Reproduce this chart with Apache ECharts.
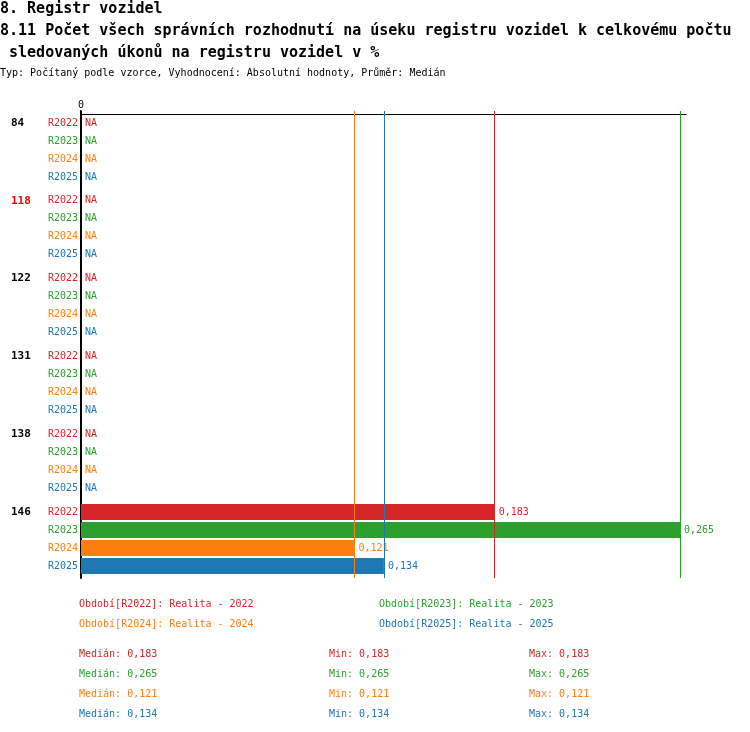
<!DOCTYPE html>
<html>
<head>
<meta charset="utf-8">
<script src="https://cdn.jsdelivr.net/npm/echarts@6/dist/echarts.min.js"></script>
<style>
  html, body { margin: 0; padding: 0; background: #fff; }
  #chart { width: 750px; height: 732px; }
</style>
</head>
<body>
<div id="chart"></div>
<script>
const titleLines = [
  '8. Registr vozidel',
  '8.11 Počet všech správních rozhodnutí na úseku registru vozidel k celkovému počtu',
  ' sledovaných úkonů na registru vozidel v %'
]
const subtitle = 'Typ: Počítaný podle vzorce, Vyhodnocení: Absolutní hodnoty, Průměr: Medián'

// skupiny (osa y) a období
const groups = ['84', '118', '122', '131', '138', '146']
const highlightGroup = '118'
const periods = ['R2022', 'R2023', 'R2024', 'R2025']
const periodNames = ['Realita - 2022', 'Realita - 2023', 'Realita - 2024', 'Realita - 2025']
const colors = ['#d62728', '#2ca02c', '#ff7f0e', '#1f77b4']

// hodnoty, null = NA
const r2022 = [null, null, null, null, null, 0.183]
const r2023 = [null, null, null, null, null, 0.265]
const r2024 = [null, null, null, null, null, 0.121]
const r2025 = [null, null, null, null, null, 0.134]
const values = [r2022, r2023, r2024, r2025]

// statistiky pod grafem
const medians = [0.183, 0.265, 0.121, 0.134]
const mins = [0.183, 0.265, 0.121, 0.134]
const maxs = [0.183, 0.265, 0.121, 0.134]

const mono = '"DejaVu Sans Mono", "Liberation Mono", monospace'
const fmt = v => String(v).replace('.', ',')

let allValues = values.flat().filter(v => v !== null)
let axisMax = Math.max(...allValues) * 1.01

let rich = {
  g: { width: 37, align: 'left', fontFamily: mono, fontSize: 11, fontWeight: 'bold', color: '#000', lineHeight: 18 },
  gh: { width: 37, align: 'left', fontFamily: mono, fontSize: 11, fontWeight: 'bold', color: '#ff0000', lineHeight: 18 }
}
periods.forEach((p, i) => {
  rich['r' + i] = { align: 'right', fontFamily: mono, fontSize: 10, color: colors[i], lineHeight: 18 }
})

let series = periods.map((p, i) => ({
  name: p,
  type: 'bar',
  barWidth: 16,
  barGap: '12.5%',
  itemStyle: { color: colors[i] },
  label: {
    show: true,
    position: 'right',
    distance: 4,
    color: colors[i],
    fontFamily: mono,
    fontSize: 10,
    formatter: params => params.data.na ? 'NA' : fmt(params.value)
  },
  emphasis: { disabled: true },
  data: values[i].map(v => v === null ? { value: 0, na: true } : { value: v }),
  markLine: {
    silent: true,
    symbol: 'none',
    precision: 3,
    animation: false,
    label: { show: false },
    lineStyle: { color: colors[i], width: 1, type: 'solid' },
    data: [{ xAxis: medians[i] }]
  }
}))

// legenda a statistiky jako text
let graphic = []
const legendX = [79, 379]
const legendY = [604, 624]
periods.forEach((p, i) => {
  graphic.push({
    type: 'text',
    x: legendX[i % 2],
    y: legendY[Math.floor(i / 2)],
    style: { text: `Období[${p}]: ${periodNames[i]}`, fill: colors[i], font: '10px ' + mono, verticalAlign: 'middle' }
  })
})
const statY = [654, 674, 694, 714]
const statCols = [
  { x: 79, label: 'Medián', data: medians },
  { x: 329, label: 'Min', data: mins },
  { x: 529, label: 'Max', data: maxs }
]
periods.forEach((p, i) => {
  statCols.forEach(col => {
    graphic.push({
      type: 'text',
      x: col.x,
      y: statY[i],
      style: { text: `${col.label}: ${fmt(col.data[i])}`, fill: colors[i], font: '10px ' + mono, verticalAlign: 'middle' }
    })
  })
})

let chart = echarts.init(document.getElementById('chart'))
let options = {
  animation: false,
  backgroundColor: '#fff',
  title: [
    {
      text: titleLines.join('\n'),
      left: 0,
      top: -2,
      padding: 0,
      textStyle: { fontFamily: mono, fontSize: 15, fontWeight: 'bold', lineHeight: 22, color: '#000' }
    },
    {
      text: subtitle,
      left: 0,
      top: 67,
      padding: 0,
      textStyle: { fontFamily: mono, fontSize: 10, fontWeight: 'normal', lineHeight: 12, color: '#000' }
    }
  ],
  grid: { left: 81, right: 64, top: 111, height: 467, containLabel: false },
  xAxis: {
    type: 'value',
    position: 'top',
    offset: -3,
    min: 0,
    max: axisMax,
    axisLine: { show: true, lineStyle: { color: '#000', width: 1 } },
    axisTick: { show: false },
    splitLine: { show: false },
    axisLabel: {
      margin: 4,
      fontFamily: mono,
      fontSize: 10,
      color: '#000',
      formatter: v => v === 0 ? '0' : ''
    }
  },
  yAxis: {
    type: 'category',
    inverse: true,
    data: groups,
    axisLine: { show: true, lineStyle: { color: '#000', width: 2 } },
    axisTick: { show: false },
    splitLine: { show: false },
    axisLabel: {
      margin: 3,
      interval: 0,
      rich: rich,
      formatter: value => {
        let g = value === highlightGroup ? 'gh' : 'g'
        return `{${g}|${value}}{r0|${periods[0]}}\n{r1|${periods[1]}}\n{r2|${periods[2]}}\n{r3|${periods[3]}}`
      }
    }
  },
  series: series,
  graphic: graphic
}
chart.setOption(options, true)
</script>
</body>
</html>
